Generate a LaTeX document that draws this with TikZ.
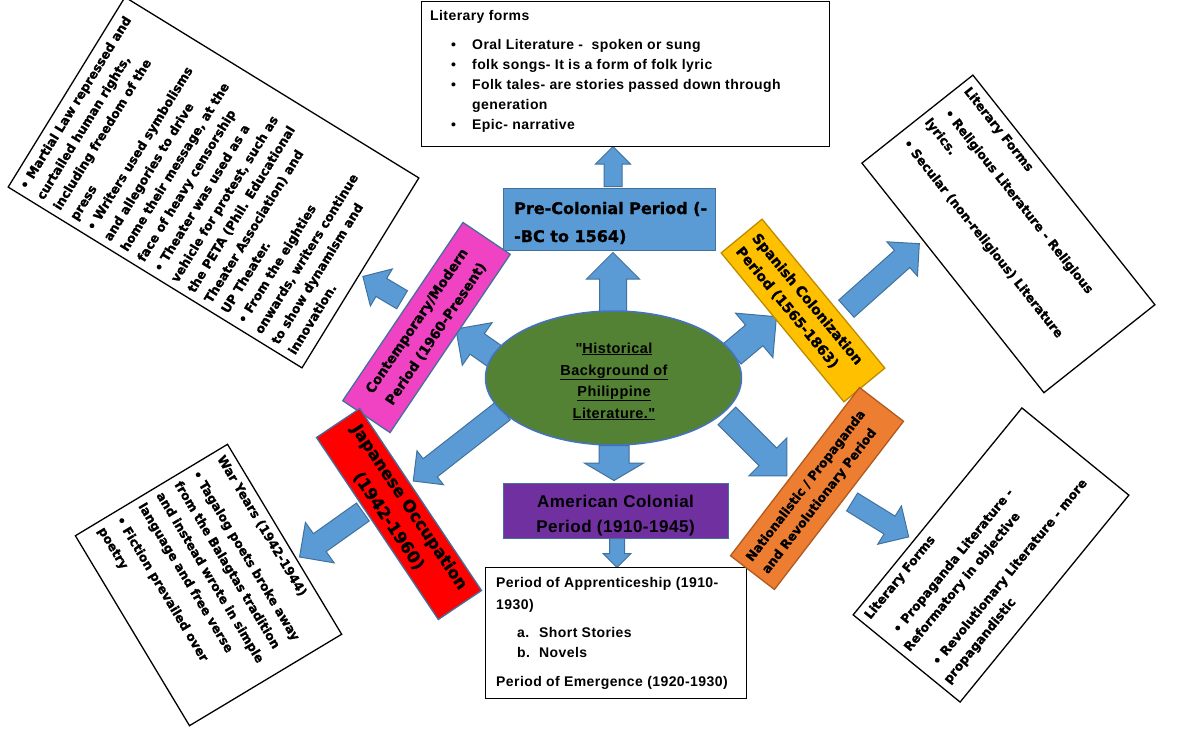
\documentclass[tikz,border=0pt]{standalone}
\usepackage{fontspec}
\setmainfont{Liberation Sans}
\newfontfamily\dv[BoldFeatures={FakeBold=1.2}]{DejaVu Sans}
\newfontfamily\lsp[LetterSpace=3]{Liberation Sans}
\usetikzlibrary{shapes.arrows,shapes.geometric}
\definecolor{arrfill}{HTML}{5B9BD5}
\definecolor{arrline}{HTML}{41719C}
\definecolor{grn}{HTML}{548235}
\definecolor{ellline}{HTML}{4472C4}
\definecolor{purp}{HTML}{7030A0}
\definecolor{yel}{HTML}{FFC000}
\definecolor{yelline}{HTML}{BC8C00}
\definecolor{org}{HTML}{ED7D31}
\definecolor{orgline}{HTML}{AE5A21}
\definecolor{pnk}{HTML}{F043C3}
\definecolor{rd}{HTML}{FF0000}
\newcommand{\uptext}{\lsp\bfseries\fontsize{14}{17}\selectfont}
\newcommand{\rottext}{\dv\bfseries\fontsize{12.5}{19.7}\selectfont}
\tikzset{
  barrow/.style={single arrow, draw=arrline, fill=arrfill, line width=1pt, inner sep=0pt,
    single arrow head indent=0pt, text depth=0pt, anchor=tail},
  arr/.style n args={4}{minimum height=#1, text height=#2, single arrow head extend=#3, rotate=#4},
  tbox/.style={draw=black, line width=1.3pt, fill=white, inner sep=0pt},
  cbox/.style={line width=1.3pt, inner ysep=0pt, inner xsep=8pt},
  txt/.style={anchor=base west, inner sep=0pt, font=\uptext},
  ctxt/.style={anchor=base, inner sep=0pt},
}
\begin{document}
\begin{tikzpicture}[x=1pt,y=1pt]
\useasboundingbox (0,0) rectangle (1200,-729);
\fill[white] (0,0) rectangle (1200,-729);

% block arrows
\node[barrow, arr={40pt}{17pt}{8.5pt}{90}] (a1) at (613,-187) {};
\node[barrow, arr={59pt}{26pt}{13pt}{90}] (a2) at (613,-312) {};
\node[barrow, arr={35pt}{29pt}{14.5pt}{-90}, single arrow tip angle=119] (a3) at (614,-445) {};
\node[barrow, arr={29pt}{14pt}{6.5pt}{-90}] (a4) at (617,-538) {};
\node[barrow, arr={57.5pt}{26pt}{15.5pt}{40}] (a5) at (732,-354) {};
\node[barrow, arr={97.7pt}{22pt}{11.5pt}{41.7}] (a6) at (846,-309) {};
\node[barrow, arr={57pt}{24pt}{13.5pt}{145}] (a7) at (503,-362) {};
\node[barrow, arr={45.6pt}{20pt}{11pt}{149.3}] (a8) at (402.5,-300) {};
\node[barrow, arr={114pt}{22pt}{10pt}{218}] (a9) at (503.5,-410.5) {};
\node[barrow, arr={77.7pt}{21pt}{13.8pt}{215.4}] (a10) at (363.3,-511.7) {};
\node[barrow, arr={85pt}{24pt}{14.5pt}{-45}] (a11) at (726.5,-415.5) {};
\node[barrow, arr={66.5pt}{20pt}{12pt}{-31.7}] (a12) at (851.7,-501.7) {};

% top box
\node[tbox, minimum width=408pt, minimum height=145pt, anchor=north west] (topbox) at (421,-1) {};
\node[txt] (t0) at (430,-20) {Literary forms};
\node[txt] (t1) at (451,-49) {\makebox[21pt][l]{•}Oral Literature -\ \ spoken or sung};
\node[txt] (t2) at (451,-69) {\makebox[21pt][l]{•}folk songs- It is a form of folk lyric};
\node[txt] (t3) at (451,-89) {\makebox[21pt][l]{•}Folk tales- are stories passed down through};
\node[txt] (t4) at (472,-109) {generation};
\node[txt] (t5) at (451,-129) {\makebox[21pt][l]{•}Epic- narrative};

% pre-colonial
\node[draw=arrline, fill=arrfill, line width=1.2pt, minimum width=212pt, minimum height=62pt, anchor=north west] (pre) at (503,-188) {};
\node[anchor=base west, inner sep=0pt, font=\dv\bfseries\fontsize{16}{20}\selectfont] (pre1) at (514,-214) {Pre-Colonial Period (-};
\node[anchor=base west, inner sep=0pt, font=\dv\bfseries\fontsize{16}{20}\selectfont] (pre2) at (514,-242) {-BC to 1564)};

% ellipse
\node[ellipse, draw=ellline, fill=grn, line width=1.5pt, minimum width=256pt, minimum height=134pt, inner sep=0pt] (ell) at (613.5,-378) {};
\node[ctxt, font=\lsp\bfseries\fontsize{14.5}{17}\selectfont] (e1) at (614,-353) {"\underline{Historical}};
\node[ctxt, font=\lsp\bfseries\fontsize{14.5}{17}\selectfont] (e2) at (614,-375) {\underline{Background of}};
\node[ctxt, font=\lsp\bfseries\fontsize{14.5}{17}\selectfont] (e3) at (614,-396) {\underline{Philippine}};
\node[ctxt, font=\lsp\bfseries\fontsize{14.5}{17}\selectfont] (e4) at (614,-418) {\underline{Literature."}};

% american
\node[draw=arrline, fill=purp, line width=1.2pt, minimum width=225pt, minimum height=55pt, anchor=north west] (amer) at (503,-483) {};
\node[ctxt, font=\lsp\bfseries\fontsize{17}{20}\selectfont] (am1) at (615.5,-507) {American Colonial};
\node[ctxt, font=\lsp\bfseries\fontsize{17}{20}\selectfont] (am2) at (615.5,-532) {Period (1910-1945)};

% bottom box
\node[tbox, minimum width=261pt, minimum height=131pt, anchor=north west] (botbox) at (485,-567) {};
\node[txt] (b1) at (496,-587) {Period of Apprenticeship (1910-};
\node[txt] (b2) at (496,-609) {1930)};
\node[txt] (b3) at (517,-637) {\makebox[22pt][l]{a.}Short Stories};
\node[txt] (b4) at (517,-657) {\makebox[22pt][l]{b.}Novels};
\node[txt] (b5) at (496,-686) {Period of Emergence (1920-1930)};

% rotated text boxes
\node[tbox, rotate=58.4] (tlbox) at (213.5,-182.5) {\begin{minipage}[c][345pt][t]{223pt}\rottext\raggedright\leftskip=7pt
\vspace*{8pt}
• Martial Law repressed and\\
curtailed human rights,\\
including freedom of the\\
press\\
• Writers used symbolisms\\
and allegories to drive\\
home their message, at the\\
face of heavy censorship\\
• Theater was used as a\\
vehicle for protest, such as\\
the PETA (Phil. Educational\\
Theater Association) and\\
UP Theater.\\
• From the eighties\\
onwards, writers continue\\
to show dynamism and\\
innovation.\par
\end{minipage}};

\node[tbox, rotate=-51.6] (trbox) at (1008.4,-233.9) {\begin{minipage}[c][141.6pt][t]{293pt}\rottext\fontsize{12.5}{21}\selectfont\raggedright\leftskip=7pt
\vspace*{8pt}
Literary Forms\\[8pt]
\hspace*{5pt}• Religious Literature - Religious\\
lyrics.\\[9pt]
\hspace*{3pt}• Secular (non-religious) Literature\par
\end{minipage}};

\node[tbox, rotate=-59] (blbox) at (208.5,-585) {\begin{minipage}[c][177.5pt][t]{221.6pt}\rottext\fontsize{12.5}{21}\selectfont\raggedright\leftskip=7pt
\vspace*{7pt}
War Years (1942-1944)\\[8pt]
• Tagalog poets broke away\\
from the Balagtas tradition\\
and instead wrote in simple\\
language and free verse\\[5pt]
• Fiction prevailed over\\
poetry\par
\end{minipage}};

\node[tbox, rotate=50.8] (brbox) at (991,-555) {\begin{minipage}[c][138pt][t]{267pt}\rottext\fontsize{12.5}{20}\selectfont\raggedright\leftskip=7pt
\vspace*{7pt}
Literary Forms\\[11pt]
\hspace*{7pt}• Propaganda Literature -\\
Reformatory in objective\\[11pt]
\hspace*{7pt}• Revolutionary Literature - more\\
propagandistic\par
\end{minipage}};

% coloured period boxes
\node[cbox, fill=yel, draw=yelline, rotate=-50.5, minimum width=193pt, minimum height=53pt, text width=177pt, align=left,
  font=\dv\bfseries\fontsize{14}{21}\selectfont] (spanish) at (803,-310.5) {Spanish Colonization\\Period (1565-1863)};
\node[cbox, fill=org, draw=orgline, rotate=52.5, minimum width=212pt, minimum height=55.4pt, text width=196pt, align=left,
  font=\dv\bfseries\fontsize{12.5}{20}\selectfont] (nat) at (817,-488.5) {Nationalistic / Propaganda\\and Revolutionary Period};
\node[cbox, fill=pnk, draw=arrline, rotate=56, minimum width=215pt, minimum height=57pt, text width=199pt, align=center,
  font=\dv\bfseries\fontsize{13.5}{23}\selectfont] (contemp) at (426.5,-327.5) {Contemporary/Modern\\Period (1960-Present)};
\node[cbox, fill=rd, draw=arrline, rotate=-56.2, minimum width=219pt, minimum height=52pt, text width=203pt, align=center,
  font=\dv\bfseries\fontsize{16.5}{25}\selectfont] (japan) at (399,-514) {Japanese Occupation\\(1942-1960)};
\end{tikzpicture}
\end{document}
